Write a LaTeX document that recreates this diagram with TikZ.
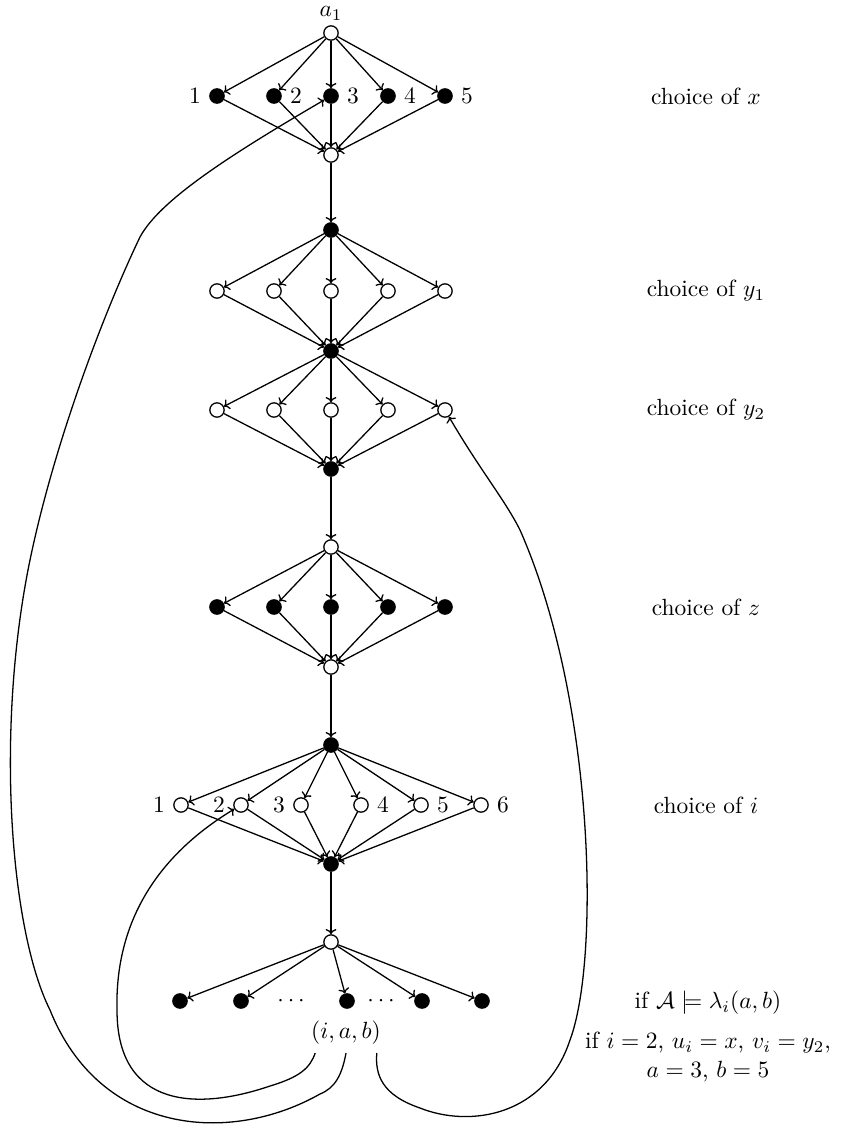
\documentclass[tikz,border=0pt]{standalone}
\usepackage{amsmath,amssymb}
\usepackage{tikz}
\usetikzlibrary{arrows.meta,positioning,calc}
\tikzset{
    aberto/.style={
        circle,
        draw,
        fill=white,
        inner sep=0pt,
        minimum size=0.215cm,
        line width=0.55pt
    },
    cheio/.style={aberto, fill=black},
    fluxo/.style={-{To[length=2.2pt, width=4.6pt]}, line width=0.55pt},
    escolha/.style={align=center}
}

\begin{document}
\begin{tikzpicture}[x=0.015cm, y=-0.015cm]
    \useasboundingbox (0,0) rectangle (845,1126);

    % escolha de x
    \node[aberto, label={[inner sep=1.8pt]above:$a_1$}] (a1) at (331,33) {};
    \foreach \k/\lado in {1/left,2/right,3/right,4/right,5/right}
        \node[cheio, label=\lado:\k] (x\k) at ({160+57*\k},96) {};
    \node[aberto] (mx) at (331,155) {};

    % escolha de y1 e y2
    \node[cheio] (s1) at (331,230) {};
    \foreach \k in {1,...,5}
        \node[aberto] (ya\k) at ({160+57*\k},291) {};
    \node[cheio] (s2) at (331,351) {};
    \foreach \k in {1,...,5}
        \node[aberto] (yb\k) at ({160+57*\k},410) {};
    \node[cheio] (s3) at (331,469) {};

    % escolha de z
    \node[aberto] (s4) at (331,547) {};
    \foreach \k in {1,...,5}
        \node[cheio] (z\k) at ({160+57*\k},607) {};
    \node[aberto] (s5) at (331,667) {};

    % escolha de i
    \node[cheio] (s6) at (331,745) {};
    \foreach \k/\lado in {1/left,2/left,3/left,4/right,5/right,6/right}
        \node[aberto, label=\lado:\k] (i\k) at ({121+60*\k},805) {};
    \node[cheio] (s7) at (331,864) {};

    % testes
    \node[aberto] (s8) at (331,942) {};
    \foreach \k/\px in {1/180,2/241,3/347,4/422,5/482}
        \node[cheio] (r\k) at (\px,1001) {};
    \node (d1) at (293,1001) {$\cdots$};
    \node (d2) at (383,1001) {$\cdots$};
    \node (iab) at (346,1033) {$(i,a,b)$};

    % textos da direita
    \node[escolha] (cx) at (706,96) {choice of $x$};
    \node[escolha] (cy1) at (706,291) {choice of $y_1$};
    \node[escolha] (cy2) at (706,410) {choice of $y_2$};
    \node[escolha] (cz) at (706,607) {choice of $z$};
    \node[escolha] (ci) at (706,805) {choice of $i$};
    \node[escolha] (cond) at (708,1003) {if $\mathcal{A}\models\lambda_i(a,b)$};
    \node[escolha] (caso) at (708,1057)
        {if $i=2$, $u_i=x$, $v_i=y_2$,\\ $a=3$, $b=5$};

    % leques
    \foreach \k in {1,...,5} {
        \draw[fluxo] (a1) -- (x\k);
        \draw[fluxo] (x\k) -- (mx);
        \draw[fluxo] (s1) -- (ya\k);
        \draw[fluxo] (ya\k) -- (s2);
        \draw[fluxo] (s2) -- (yb\k);
        \draw[fluxo] (yb\k) -- (s3);
        \draw[fluxo] (s4) -- (z\k);
        \draw[fluxo] (z\k) -- (s5);
        \draw[fluxo] (s8) -- (r\k);
    }
    \foreach \k in {1,...,6} {
        \draw[fluxo] (s6) -- (i\k);
        \draw[fluxo] (i\k) -- (s7);
    }
    \draw[fluxo] (mx) -- (s1);
    \draw[fluxo] (s3) -- (s4);
    \draw[fluxo] (s5) -- (s6);
    \draw[fluxo] (s7) -- (s8);

    % lacos de volta
    \draw[fluxo] (iab.213) .. controls (310,1068) and (300,1077) .. (270,1086)
        .. controls (200,1110) and (117,1110) .. (117,1010)
        .. controls (115,930) and (150,860) .. (i2);
    \draw[fluxo] (iab.south) .. controls (342,1075) and (335,1088) .. (320,1094)
        .. controls (230,1145) and (100,1135) .. (50,1010)
        .. controls (10,930) and (-5,730) .. (30,560)
        .. controls (55,440) and (105,310) .. (140,237)
        .. controls (160,200) and (230,155) .. (x3);
    \draw[fluxo] (iab.-33) .. controls (375,1075) and (382,1095) .. (420,1108)
        .. controls (470,1128) and (545,1116) .. (570,1040)
        .. controls (600,960) and (595,700) .. (520,530)
        .. controls (505,500) and (480,470) .. (yb5);
\end{tikzpicture}
\end{document}
